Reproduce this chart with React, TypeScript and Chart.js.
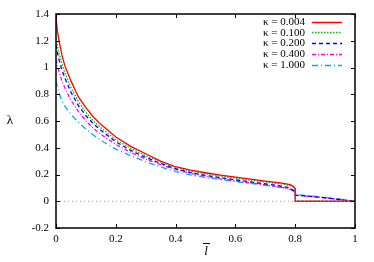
import React, { useEffect, useRef } from "react";
import { Chart, registerables } from "chart.js";

Chart.register(...registerables);

const xValues = [0, 0.005, 0.01, 0.02, 0.03, 0.05, 0.075, 0.1, 0.125, 0.15, 0.2, 0.25, 0.3, 0.35, 0.4, 0.45, 0.5, 0.55, 0.6, 0.65, 0.7, 0.75, 0.77, 0.785, 0.795, 0.8, 0.8, 0.85, 0.9, 0.95, 1.0];

const kappa0004 = [1.37, 1.27, 1.2, 1.09, 1.01, 0.9, 0.78, 0.7, 0.63, 0.575, 0.48, 0.41, 0.355, 0.3, 0.258, 0.232, 0.213, 0.196, 0.18, 0.165, 0.15, 0.137, 0.13, 0.122, 0.11, 0.095, 0, 0, 0, 0, 0];
const kappa0100 = [1.22, 1.16, 1.11, 1.03, 0.96, 0.85, 0.745, 0.665, 0.6, 0.55, 0.46, 0.395, 0.34, 0.293, 0.252, 0.225, 0.205, 0.188, 0.172, 0.158, 0.144, 0.13, 0.122, 0.114, 0.103, 0.09, 0, 0, 0, 0, 0];
const kappa0200 = [1.17, 1.11, 1.06, 0.98, 0.92, 0.815, 0.715, 0.64, 0.58, 0.53, 0.445, 0.38, 0.328, 0.283, 0.243, 0.215, 0.194, 0.176, 0.16, 0.145, 0.13, 0.114, 0.105, 0.095, 0.08, 0.065, 0.045, 0.037, 0.026, 0.013, 0];
const kappa0400 = [1.06, 1.01, 0.97, 0.9, 0.845, 0.755, 0.67, 0.6, 0.545, 0.5, 0.425, 0.365, 0.315, 0.273, 0.238, 0.209, 0.187, 0.168, 0.152, 0.137, 0.122, 0.106, 0.097, 0.088, 0.075, 0.06, 0.045, 0.036, 0.025, 0.013, 0];
const kappa1000 = [0.9, 0.85, 0.81, 0.75, 0.71, 0.65, 0.59, 0.54, 0.495, 0.455, 0.39, 0.34, 0.295, 0.257, 0.222, 0.198, 0.178, 0.162, 0.147, 0.133, 0.119, 0.104, 0.096, 0.088, 0.078, 0.066, 0.05, 0.04, 0.028, 0.015, 0];

const seriesLabels = ["κ = 0.004", "κ = 0.100", "κ = 0.200", "κ = 0.400", "κ = 1.000"];
const seriesValues = [kappa0004, kappa0100, kappa0200, kappa0400, kappa1000];
const seriesColors = ["#ff0000", "#00c000", "#0000ff", "#ff00ff", "#00a8ff"];
const seriesDashes: number[][] = [[], [1.5, 1.5], [4, 3], [4, 2, 1, 2], [6, 3, 1, 3]];

const zeroLineX = [0, 1];
const zeroLineY = [0, 0];

const FONT = "'Liberation Serif', 'DejaVu Serif', serif";

const framePlugin = {
  id: "gnuplotFrame",
  afterDatasetsDraw(chart: any) {
    const { ctx, chartArea } = chart;
    const { left, right, top, bottom } = chartArea;
    const xs = chart.scales.x;
    const ys = chart.scales.y;
    ctx.save();
    ctx.strokeStyle = "#000";
    ctx.lineWidth = 1.5;
    ctx.setLineDash([]);
    ctx.strokeRect(left, top, right - left, bottom - top);
    ctx.lineWidth = 1;
    const tl = 4;
    ctx.beginPath();
    xs.ticks.forEach((t: any) => {
      const px = Math.round(xs.getPixelForValue(t.value)) + 0.5;
      ctx.moveTo(px, bottom);
      ctx.lineTo(px, bottom - tl);
      ctx.moveTo(px, top);
      ctx.lineTo(px, top + tl);
    });
    ys.ticks.forEach((t: any) => {
      const py = Math.round(ys.getPixelForValue(t.value)) + 0.5;
      ctx.moveTo(left, py);
      ctx.lineTo(left + tl, py);
      ctx.moveTo(right, py);
      ctx.lineTo(right - tl, py);
    });
    ctx.stroke();

    // legend
    ctx.font = `11px ${FONT}`;
    ctx.fillStyle = "#000";
    ctx.textAlign = "right";
    ctx.textBaseline = "middle";
    const rowY = [21.7, 32.4, 43.1, 53.8, 64.5];
    seriesLabels.forEach((lab, i) => {
      const y = rowY[i];
      ctx.fillText(lab, 305, y + 0.5);
      ctx.strokeStyle = seriesColors[i];
      ctx.lineWidth = 1.5;
      ctx.setLineDash(seriesDashes[i]);
      ctx.beginPath();
      ctx.moveTo(312, Math.round(y) + 0.5);
      ctx.lineTo(342, Math.round(y) + 0.5);
      ctx.stroke();
    });
    ctx.setLineDash([]);

    // axis titles
    ctx.textAlign = "center";
    ctx.font = `13px ${FONT}`;
    ctx.fillText("λ", 10, 121);
    ctx.font = `italic 13px ${FONT}`;
    ctx.fillText("l", 206, 252);
    ctx.strokeStyle = "#000";
    ctx.lineWidth = 1;
    ctx.beginPath();
    ctx.moveTo(203, 243.5);
    ctx.lineTo(210, 243.5);
    ctx.stroke();
    ctx.restore();
  },
};

const fmt = (v: number) => String(Number(Number(v).toFixed(1)));

export default function App() {
  const ref = useRef<HTMLCanvasElement | null>(null);
  useEffect(() => {
    document.body.style.margin = "0";
    const canvas = ref.current;
    if (!canvas) return;
    const datasets: any[] = [
      {
        label: "zero",
        data: zeroLineX.map((x, i) => ({ x, y: zeroLineY[i] })),
        borderColor: "#a0a0a0",
        borderWidth: 1,
        borderDash: [1, 3],
        pointRadius: 0,
        tension: 0,
      },
    ];
    seriesValues.forEach((vals, i) => {
      datasets.push({
        label: seriesLabels[i],
        data: xValues.map((x, j) => ({ x, y: vals[j] })),
        borderColor: seriesColors[i],
        borderWidth: 1.3,
        borderDash: seriesDashes[i],
        pointRadius: 0,
        tension: 0,
        fill: false,
      });
    });
    const chart = new Chart(canvas, {
      type: "line",
      data: { datasets },
      plugins: [framePlugin],
      options: {
        animation: false,
        responsive: false,
        maintainAspectRatio: false,
        layout: { padding: { top: 14, right: 19, left: 0, bottom: 0 } },
        plugins: { legend: { display: false }, tooltip: { enabled: false } },
        scales: {
          x: {
            type: "linear",
            min: 0,
            max: 1,
            afterFit: (s: any) => { s.height = 34; },
            grid: { display: false, drawTicks: false },
            border: { display: false },
            ticks: {
              stepSize: 0.2,
              padding: 5,
              color: "#000",
              font: { family: FONT, size: 11 },
              maxRotation: 0,
              callback: (v: any) => fmt(v),
            },
          },
          y: {
            type: "linear",
            min: -0.2,
            max: 1.4,
            afterFit: (s: any) => { s.width = 56; },
            grid: { display: false, drawTicks: false },
            border: { display: false },
            ticks: {
              stepSize: 0.2,
              padding: 7,
              color: "#000",
              font: { family: FONT, size: 11 },
              callback: (v: any) => fmt(v),
            },
          },
        },
      },
    });
    return () => chart.destroy();
  }, []);
  return (
    <div style={{ position: "fixed", left: 0, top: 0, width: 374, height: 262, background: "#fff" }}>
      <canvas ref={ref} width={374} height={262} style={{ width: 374, height: 262 }} />
    </div>
  );
}
